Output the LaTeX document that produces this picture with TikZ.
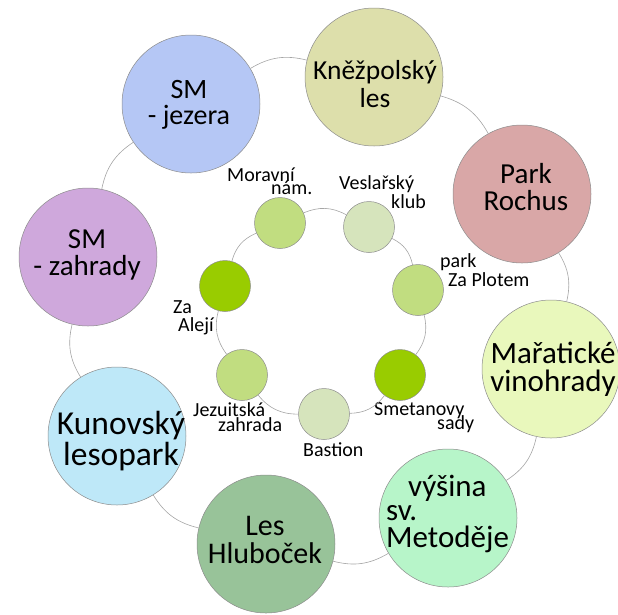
\documentclass[tikz,border=0pt]{standalone}
\usepackage{fontspec}
\setmainfont{Carlito}
\definecolor{cSMJ}{RGB}{181,199,245}
\definecolor{cKN}{RGB}{221,223,171}
\definecolor{cROCH}{RGB}{217,167,167}
\definecolor{cMAR}{RGB}{233,248,188}
\definecolor{cVYS}{RGB}{183,245,201}
\definecolor{cHLUB}{RGB}{152,195,153}
\definecolor{cKUN}{RGB}{190,232,248}
\definecolor{cSMZ}{RGB}{207,168,220}
\definecolor{gDark}{RGB}{153,204,0}
\definecolor{gMid}{RGB}{193,221,128}
\definecolor{gLight}{RGB}{214,228,188}
\definecolor{ring}{RGB}{165,165,165}
\definecolor{rim}{RGB}{140,140,140}
\newcommand{\fs}[2]{\fontsize{#1}{#2}\selectfont}
\newcommand{\ctext}[1]{\begin{tabular}[t]{@{}c@{}}#1\end{tabular}}
\newcommand{\ltext}[1]{\begin{tabular}[t]{@{}l@{}}#1\end{tabular}}
\tikzset{
  bigc/.style={circle, draw=rim, line width=0.5pt, minimum size=138pt, inner sep=0pt},
  smallc/.style={circle, draw=rim, line width=0.5pt, minimum size=51pt, inner sep=0pt},
  otxt/.style={anchor=base, inner sep=0pt},
  lbl/.style={anchor=base west, inner sep=0pt, font=\fs{20}{20}},
  link/.style={draw=ring, line width=0.6pt},
}
\begin{document}
\begin{tikzpicture}[x=1pt, y=-1pt]
\useasboundingbox (0,0) rectangle (618,614);
% outer ring circles
\node[bigc, fill=cKN]   (kn)   at (374,77)  {};
\node[bigc, fill=cROCH] (roch) at (522,194) {};
\node[bigc, fill=cMAR]  (mar)  at (551,369) {};
\node[bigc, fill=cVYS]  (vys)  at (448,518) {};
\node[bigc, fill=cHLUB] (hlub) at (266,544) {};
\node[bigc, fill=cKUN]  (kun)  at (117,436) {};
\node[bigc, fill=cSMZ]  (smz)  at (88,257)  {};
\node[bigc, fill=cSMJ]  (smj)  at (191,104) {};
% outer texts
\node[otxt] (tkn)   at (375,79)  {\fs{27.5}{28}\ctext{Kněžpolský\\les}};
\node[otxt] (troch) at (526,183) {\fs{29}{24}\ctext{Park\\Rochus}};
\node[otxt] (tmar)  at (553,363) {\fs{31}{24}\ctext{Mařatické\\vinohrady}};
\node[otxt, anchor=base west] (tvys) at (386,496) {\fs{31}{24}\ltext{\hspace*{22pt}výšina\\sv.\\[-1pt]Metoděje}};
\node[otxt] (thlub) at (265,535) {\fs{30}{27}\ctext{Les\\Hluboček}};
\node[otxt] (tkun)  at (121,434) {\fs{33.5}{26}\ctext{Kunovský\\lesopark}};
\node[otxt] (tsmz)  at (87,248)  {\fs{29}{25}\ctext{SM\\- zahrady}};
\node[otxt] (tsmj)  at (189,98)  {\fs{28}{24}\ctext{SM\\- jezera}};
% inner ring
\node[smallc, fill=gMid]   (mor)  at (280,223) {};
\node[smallc, fill=gLight] (ves)  at (369,227) {};
\node[smallc, fill=gMid]   (park) at (418,290) {};
\node[smallc, fill=gDark]  (smet) at (400,375) {};
\node[smallc, fill=gLight] (bast) at (324,414) {};
\node[smallc, fill=gMid]   (jez)  at (242,375) {};
\node[smallc, fill=gDark]  (zaa)  at (225,286) {};
% inner labels
\node[lbl] (lmor)  at (227,181) {\ltext{Moravní\\[-6.5pt]\hspace*{44pt}nám.}};
\node[lbl] (lves)  at (339,189) {\ltext{Veslařský\\[-1pt]\hspace*{52pt}klub}};
\node[lbl] (lpark) at (440,267) {\ltext{park\\[-1pt]\hspace*{8pt}Za Plotem}};
\node[lbl] (lsmet) at (374,415) {\ltext{Smetanovy\\[-5.5pt]\hspace*{63pt}sady}};
\node[lbl] (lbast) at (303,456) {Bastion};
\node[lbl] (ljez)  at (193,416) {\ltext{Jezuitská\\[-4.3pt]\hspace*{25pt}zahrada}};
\node[lbl] (lzaa)  at (173,313) {\ltext{Za\\[-2pt]\hspace*{5pt}Alejí}};
% outer connectors
\foreach \a/\b in {kn/roch, roch/mar, mar/vys, vys/hlub, hlub/kun, kun/smz, smz/smj, smj/kn}
  \draw[link] (\a) to[bend left=22.5] (\b);
% inner connectors
\foreach \a/\b in {mor/ves, ves/park, park/smet, smet/bast, bast/jez, jez/zaa, zaa/mor}
  \draw[link] (\a) to[bend left=25.7] (\b);
\end{tikzpicture}
\end{document}
